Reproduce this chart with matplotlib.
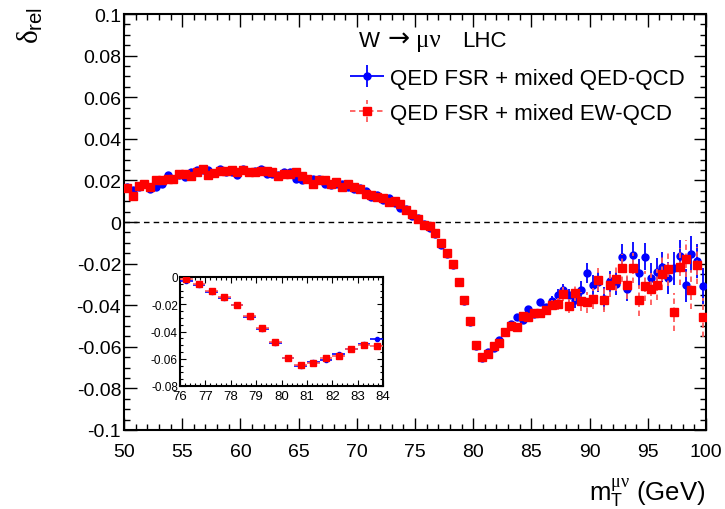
import numpy as np
import matplotlib
matplotlib.use("Agg")
import matplotlib.pyplot as plt
from matplotlib.ticker import MultipleLocator, FuncFormatter
from matplotlib.container import ErrorbarContainer
from matplotlib.legend_handler import HandlerErrorbar

plt.rcParams['font.family'] = ['Liberation Sans', 'DejaVu Sans']
plt.rcParams['mathtext.fontset'] = 'custom'
plt.rcParams['mathtext.rm'] = 'Liberation Sans'
plt.rcParams['mathtext.it'] = 'Liberation Serif'
plt.rcParams['mathtext.bf'] = 'Liberation Sans:bold'
plt.rcParams['axes.unicode_minus'] = False

# ---------------- data ----------------
bin_width = 0.5
mT = np.arange(50.25, 100.0, bin_width)   # bin centres (GeV)

delta_qed = [
    0.0168, 0.0153, 0.0169, 0.0182, 0.0158, 0.0169, 0.0185, 0.0225, 0.0206, 0.0225,
    0.0217, 0.0238, 0.0249, 0.0250, 0.0248, 0.0236, 0.0257, 0.0240, 0.0241, 0.0225,
    0.0254, 0.0241, 0.0245, 0.0257, 0.0233, 0.0229, 0.0225, 0.0241, 0.0238, 0.0209,
    0.0201, 0.0206, 0.0209, 0.0209, 0.0185, 0.0177, 0.0181, 0.0185, 0.0169, 0.0158,
    0.0165, 0.0150, 0.0118, 0.0130, 0.0106, 0.0114, 0.0090, 0.0066, 0.0061, 0.0029,
    0.0018, -0.0010, -0.0030, -0.0058, -0.0110, -0.0152, -0.0206, -0.0290, -0.0378, -0.0482,
    -0.0595, -0.0652, -0.0625, -0.0608, -0.0566, -0.0530, -0.0490, -0.0455, -0.0470, -0.0419,
    -0.0440, -0.0385, -0.0409, -0.0379, -0.0350, -0.0326, -0.0353, -0.0377, -0.0329, -0.0243,
    -0.0304, -0.0288, -0.0369, -0.0285, -0.0297, -0.0169, -0.0323, -0.0160, -0.0243, -0.0166,
    -0.0267, -0.0241, -0.0216, -0.0269, -0.0222, -0.0165, -0.0304, -0.0153, -0.0187, -0.0307,
]
err_qed = [
    0.0004, 0.0004, 0.0004, 0.0004, 0.0004, 0.0004, 0.0004, 0.0004, 0.0004, 0.0004,
    0.0004, 0.0004, 0.0004, 0.0004, 0.0004, 0.0004, 0.0004, 0.0004, 0.0004, 0.0004,
    0.0004, 0.0004, 0.0004, 0.0004, 0.0004, 0.0004, 0.0004, 0.0004, 0.0004, 0.0004,
    0.0004, 0.0004, 0.0004, 0.0004, 0.0004, 0.0004, 0.0004, 0.0004, 0.0004, 0.0004,
    0.0004, 0.0004, 0.0004, 0.0004, 0.0004, 0.0004, 0.0004, 0.0004, 0.0004, 0.0004,
    0.0005, 0.0005, 0.0005, 0.0005, 0.0005, 0.0005, 0.0005, 0.0005, 0.0005, 0.0005,
    0.0006, 0.0006, 0.0006, 0.0006, 0.0007, 0.0007, 0.0008, 0.0009, 0.0010, 0.0013,
    0.0014, 0.0015, 0.0017, 0.0022, 0.0028, 0.0030, 0.0032, 0.0038, 0.0043, 0.0048,
    0.0048, 0.0050, 0.0055, 0.0050, 0.0056, 0.0062, 0.0058, 0.0064, 0.0064, 0.0066,
    0.0070, 0.0066, 0.0072, 0.0078, 0.0080, 0.0080, 0.0080, 0.0085, 0.0080, 0.0086,
]
delta_ew = [
    0.0165, 0.0126, 0.0174, 0.0185, 0.0169, 0.0201, 0.0201, 0.0209, 0.0206, 0.0229,
    0.0233, 0.0222, 0.0238, 0.0255, 0.0228, 0.0235, 0.0245, 0.0245, 0.0249, 0.0241,
    0.0249, 0.0238, 0.0238, 0.0245, 0.0245, 0.0241, 0.0222, 0.0229, 0.0229, 0.0238,
    0.0222, 0.0209, 0.0185, 0.0201, 0.0201, 0.0181, 0.0190, 0.0168, 0.0185, 0.0169,
    0.0161, 0.0137, 0.0130, 0.0118, 0.0114, 0.0098, 0.0102, 0.0085, 0.0058, 0.0038,
    0.0016, -0.0014, -0.0017, -0.0052, -0.0103, -0.0148, -0.0204, -0.0288, -0.0377, -0.0478,
    -0.0593, -0.0648, -0.0633, -0.0598, -0.0583, -0.0530, -0.0502, -0.0505, -0.0454, -0.0459,
    -0.0438, -0.0438, -0.0422, -0.0401, -0.0395, -0.0347, -0.0403, -0.0339, -0.0382, -0.0387,
    -0.0368, -0.0278, -0.0374, -0.0305, -0.0272, -0.0221, -0.0305, -0.0221, -0.0377, -0.0307,
    -0.0320, -0.0301, -0.0248, -0.0224, -0.0432, -0.0214, -0.0176, -0.0325, -0.0209, -0.0459,
]
err_ew = [
    0.0004, 0.0004, 0.0004, 0.0004, 0.0004, 0.0004, 0.0004, 0.0004, 0.0004, 0.0004,
    0.0004, 0.0004, 0.0004, 0.0004, 0.0004, 0.0004, 0.0004, 0.0004, 0.0004, 0.0004,
    0.0004, 0.0004, 0.0004, 0.0004, 0.0004, 0.0004, 0.0004, 0.0004, 0.0004, 0.0004,
    0.0004, 0.0004, 0.0004, 0.0004, 0.0004, 0.0004, 0.0004, 0.0004, 0.0004, 0.0004,
    0.0004, 0.0004, 0.0004, 0.0004, 0.0004, 0.0004, 0.0004, 0.0004, 0.0004, 0.0004,
    0.0005, 0.0005, 0.0005, 0.0005, 0.0005, 0.0005, 0.0005, 0.0005, 0.0005, 0.0005,
    0.0006, 0.0006, 0.0006, 0.0006, 0.0007, 0.0007, 0.0008, 0.0009, 0.0011, 0.0014,
    0.0015, 0.0017, 0.0019, 0.0024, 0.0030, 0.0033, 0.0035, 0.0042, 0.0047, 0.0052,
    0.0052, 0.0055, 0.0060, 0.0055, 0.0062, 0.0068, 0.0064, 0.0070, 0.0075, 0.0073,
    0.0077, 0.0073, 0.0079, 0.0085, 0.0090, 0.0088, 0.0088, 0.0093, 0.0088, 0.0095,
]

label_qed = "QED FSR + mixed QED-QCD"
label_ew = "QED FSR + mixed EW-QCD"

# ---------------- figure ----------------
W, H = 725, 510
fig = plt.figure(figsize=(W / 100, H / 100), dpi=100)

def px_axes(l, t, r, b):
    return [l / W, 1 - b / H, (r - l) / W, (b - t) / H]

ax = fig.add_axes(px_axes(124, 15, 706, 431))

blue = '#0000ff'
red = '#ff0000'
red_err = '#ff5a5a'

def fmt_val(v, pos):
    v = round(v, 4)
    if abs(v) < 1e-9:
        return '0'
    return ('%g' % v)

def draw(axis, ms_b, ms_r, elw):
    x = np.asarray(mT)
    eb1 = axis.errorbar(x, delta_qed, yerr=err_qed, xerr=bin_width / 2, fmt='o',
                        color=blue, ms=ms_b, mec=blue, mfc=blue, ecolor=blue,
                        elinewidth=elw, capsize=0, zorder=3)
    eb2 = axis.errorbar(x, delta_ew, yerr=err_ew, xerr=bin_width / 2, fmt='s',
                        color=red, ms=ms_r, mec=red, mfc=red, ecolor=red_err,
                        elinewidth=elw, capsize=0, zorder=4)
    for lc in eb2[2]:
        lc.set_linestyle((0, (3, 2)))
    return eb1, eb2

eb1, eb2 = draw(ax, 5.0, 5.3, 1.3)
ax.axhline(0, color='black', lw=1.0, ls=(0, (4, 3)), zorder=2)

ax.set_xlim(50, 100)
ax.set_ylim(-0.1, 0.1)
ax.xaxis.set_major_locator(MultipleLocator(5))
ax.xaxis.set_minor_locator(MultipleLocator(1))
ax.yaxis.set_major_locator(MultipleLocator(0.02))
ax.yaxis.set_minor_locator(MultipleLocator(0.005))
ax.yaxis.set_major_formatter(FuncFormatter(fmt_val))
ax.tick_params(which='both', direction='in', top=True, right=True, width=1.0)
ax.tick_params(which='major', length=9, labelsize=14)
ax.tick_params(axis='x', which='major', pad=9.5)
ax.tick_params(axis='y', which='major', pad=2)
ax.tick_params(which='minor', length=4.5)
for s in ax.spines.values():
    s.set_linewidth(1.5)

# legend
hm = {ErrorbarContainer: HandlerErrorbar(xerr_size=0.75, yerr_size=0.5)}
leg = ax.legend([eb1, eb2], [label_qed, label_ew], loc='upper left',
                bbox_to_anchor=(351 / W, 1 - 69 / H), bbox_transform=fig.transFigure,
                frameon=False, fontsize=16, handlelength=1.45, handletextpad=0.3,
                labelspacing=0.62, borderpad=0, borderaxespad=0, handler_map=hm)

# header text "W -> mu nu   LHC"
base_y = 1 - 47 / H
fig.text(359 / W, base_y, "W", fontsize=16, ha='left', va='baseline')
fig.text(387 / W, base_y, "\u2192", fontsize=19, ha='left', va='baseline',
         family=['DejaVu Sans'])
fig.text(416 / W, base_y, "\u03bc\u03bd", fontsize=18, ha='left', va='baseline',
         family=['Liberation Serif', 'DejaVu Serif'])
fig.text(462 / W, base_y, "LHC", fontsize=16, ha='left', va='baseline')

# axis titles
fig.text(30 / W, 1 - 7 / H, r"$\delta_{\mathrm{rel}}$", fontsize=21, rotation=90,
         ha='center', va='top')
fig.text(705 / W, 1 - 500 / H, r"$\mathrm{m}_{\mathrm{T}}^{\mu\nu}$ (GeV)", fontsize=18.5,
         ha='right', va='baseline')

# inset
axi = fig.add_axes(px_axes(180, 278, 383, 387))
axi.set_facecolor('white')
axi.set_zorder(5)
draw(axi, 3.0, 4.3, 1.2)
axi.set_xlim(76, 84)
axi.set_ylim(-0.08, 0)
axi.xaxis.set_major_locator(MultipleLocator(1))
axi.xaxis.set_minor_locator(MultipleLocator(0.2))
axi.yaxis.set_major_locator(MultipleLocator(0.02))
axi.yaxis.set_minor_locator(MultipleLocator(0.005))
axi.yaxis.set_major_formatter(FuncFormatter(fmt_val))
axi.tick_params(which='both', direction='in', top=True, right=True, width=0.8)
axi.tick_params(which='major', length=4.5)
axi.tick_params(axis='x', which='major', pad=3, labelsize=9.5)
axi.tick_params(axis='y', which='major', pad=1.5, labelsize=8.5)
axi.tick_params(which='minor', length=2.5)
for s in axi.spines.values():
    s.set_linewidth(1.5)

fig.savefig('out.png', dpi=100)
